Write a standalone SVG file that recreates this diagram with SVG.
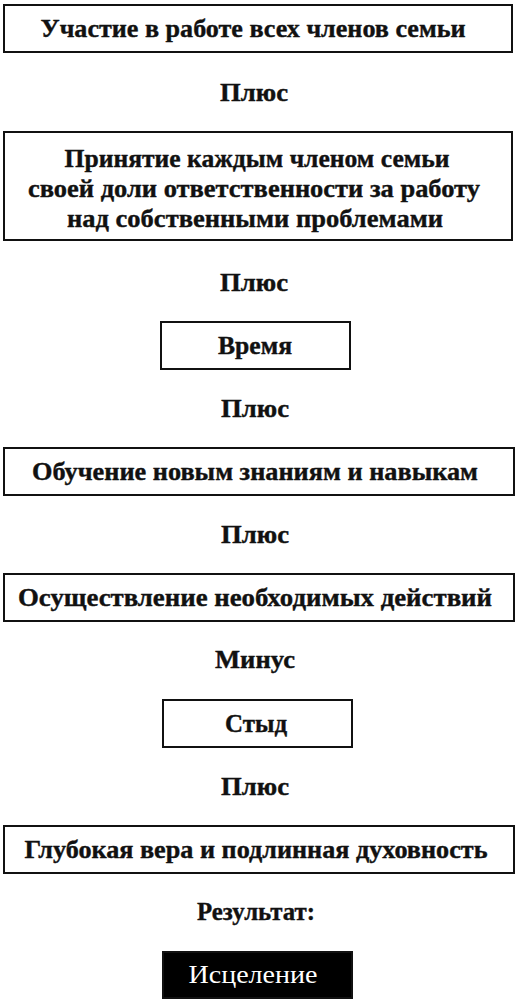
<svg xmlns="http://www.w3.org/2000/svg" width="517" height="1000" viewBox="0 0 517 1000">
<style>
.box{fill:#fff;stroke:#111;stroke-width:2}
.dark{fill:#000;stroke:#111;stroke-width:2}
text{font-family:"Liberation Serif","Times New Roman",serif;font-weight:bold;font-size:26px;fill:#111;stroke:#111;stroke-width:0.4;text-anchor:middle}
.w{font-family:"Liberation Serif","Times New Roman",serif;fill:#fff;stroke:none;font-weight:normal;font-size:25px}
</style>
<rect width="517" height="1000" fill="#fff"/>
<g id="n1"><rect class="box" x="4" y="5" width="508" height="47"/><text x="253" y="37" textLength="425" lengthAdjust="spacingAndGlyphs">Участие в работе всех членов семьи</text></g>
<g id="n2"><rect class="box" x="4" y="132" width="508" height="108"/>
<text x="257" y="167" textLength="385" lengthAdjust="spacingAndGlyphs">Принятие каждым членом семьи</text>
<text x="254" y="197" textLength="452" lengthAdjust="spacingAndGlyphs">своей доли ответственности за работу</text>
<text x="255" y="227" textLength="376" lengthAdjust="spacingAndGlyphs">над собственными проблемами</text></g>
<g id="n3"><rect class="box" x="161" y="322" width="189" height="47"/><text x="255" y="354" textLength="74" lengthAdjust="spacingAndGlyphs">Время</text></g>
<g id="n4"><rect class="box" x="4" y="448" width="510" height="47"/><text x="255" y="480" textLength="446" lengthAdjust="spacingAndGlyphs">Обучение новым знаниям и навыкам</text></g>
<g id="n5"><rect class="box" x="4" y="574" width="510" height="47"/><text x="255" y="606" textLength="474" lengthAdjust="spacingAndGlyphs">Осуществление необходимых действий</text></g>
<g id="n6"><rect class="box" x="163" y="700" width="189" height="47"/><text x="256" y="732" textLength="62" lengthAdjust="spacingAndGlyphs">Стыд</text></g>
<g id="n7"><rect class="box" x="4" y="826" width="510" height="47"/><text x="256" y="858" textLength="463" lengthAdjust="spacingAndGlyphs">Глубокая вера и подлинная духовность</text></g>
<g id="n8"><rect class="dark" x="163" y="952" width="189" height="46"/><text class="w" x="253" y="983" textLength="129" lengthAdjust="spacingAndGlyphs">Исцеление</text></g>
<g id="connectors">
<text x="254" y="101" textLength="68" lengthAdjust="spacingAndGlyphs">Плюс</text>
<text x="254" y="291" textLength="68" lengthAdjust="spacingAndGlyphs">Плюс</text>
<text x="255" y="417" textLength="68" lengthAdjust="spacingAndGlyphs">Плюс</text>
<text x="255" y="543" textLength="68" lengthAdjust="spacingAndGlyphs">Плюс</text>
<text x="255" y="668" textLength="80" lengthAdjust="spacingAndGlyphs">Минус</text>
<text x="255" y="795" textLength="68" lengthAdjust="spacingAndGlyphs">Плюс</text>
<text x="256" y="920" textLength="118" lengthAdjust="spacingAndGlyphs">Результат:</text>
</g>
</svg>
